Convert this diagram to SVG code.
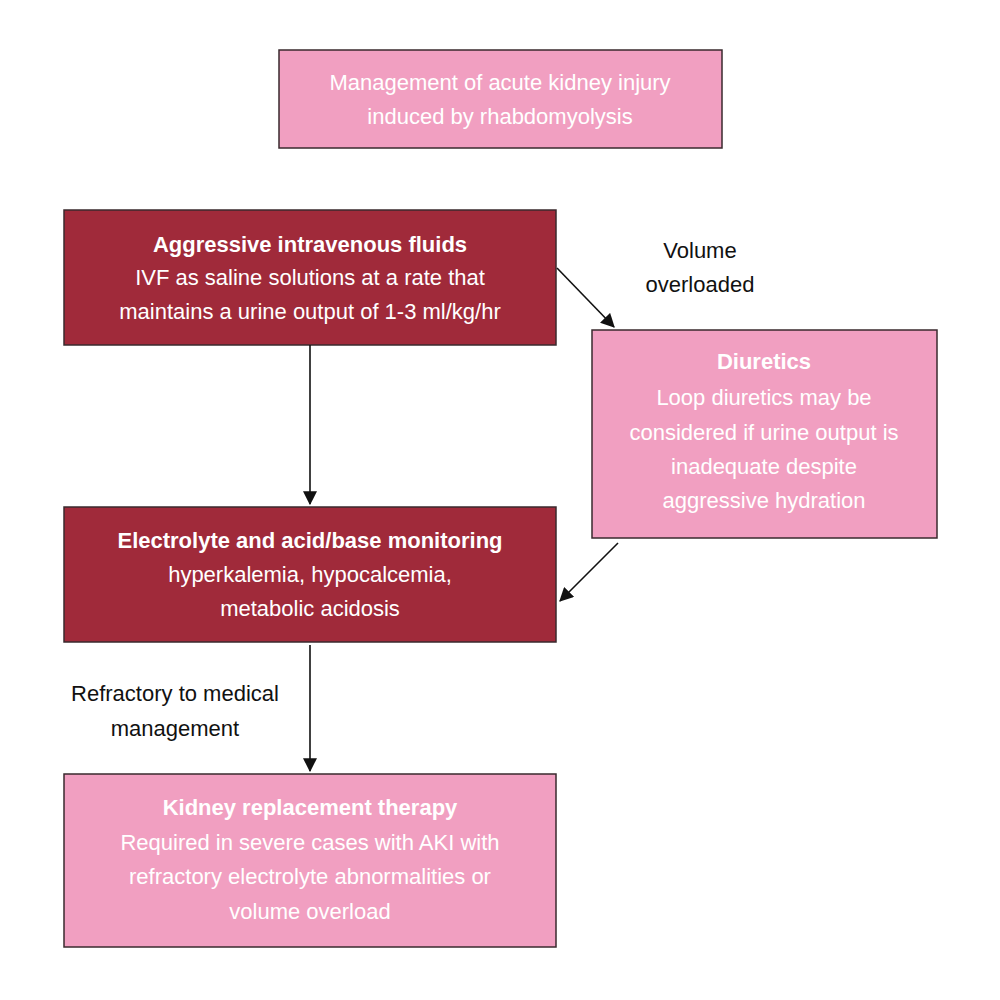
<svg xmlns="http://www.w3.org/2000/svg" width="1000" height="1000" viewBox="0 0 1000 1000">
<defs>
<style>
.pink{fill:#f19fc1;stroke:#3a2a2e;stroke-width:1.5}
.red{fill:#a02a3a;stroke:#3a2a2e;stroke-width:1.5}
text{font-family:"Liberation Sans",Arial,sans-serif;font-size:22px;text-anchor:middle}
.w{fill:#fff}
.b{font-weight:bold}
.k{fill:#111}
.c{stroke:#111;stroke-width:1.6;fill:none;marker-end:url(#ah)}
</style>
<marker id="ah" viewBox="0 0 10 10" refX="9" refY="5" markerWidth="9" markerHeight="9" orient="auto" markerUnits="userSpaceOnUse"><path d="M0,0 L10,5 L0,10 z" fill="#111"/></marker>
<marker id="ah2" viewBox="0 0 12 12" refX="11" refY="6" markerWidth="14" markerHeight="14" orient="auto" markerUnits="userSpaceOnUse"><path d="M0,0 L12,6 L0,12 z" fill="#111"/></marker>
</defs>
<style>.c{marker-end:url(#ah2)}</style>
<g id="title"><rect class="pink" x="279" y="50" width="443" height="98"/>
<text class="w" x="500" y="90">Management of acute kidney injury</text>
<text class="w" x="500" y="124">induced by rhabdomyolysis</text></g>
<g id="fluids"><rect class="red" x="64" y="210" width="492" height="135"/>
<text class="w b" x="310" y="252">Aggressive intravenous fluids</text>
<text class="w" x="310" y="285">IVF as saline solutions at a rate that</text>
<text class="w" x="310" y="319">maintains a urine output of 1-3 ml/kg/hr</text></g>
<g id="diuretics"><rect class="pink" x="592" y="330" width="345" height="208"/>
<text class="w b" x="764" y="369">Diuretics</text>
<text class="w" x="764" y="405">Loop diuretics may be</text>
<text class="w" x="764" y="440">considered if urine output is</text>
<text class="w" x="764" y="474">inadequate despite</text>
<text class="w" x="764" y="508">aggressive hydration</text></g>
<g id="electrolyte"><rect class="red" x="64" y="507" width="492" height="135"/>
<text class="w b" x="310" y="548">Electrolyte and acid/base monitoring</text>
<text class="w" x="310" y="582">hyperkalemia, hypocalcemia,</text>
<text class="w" x="310" y="616">metabolic acidosis</text></g>
<g id="krt"><rect class="pink" x="64" y="774" width="492" height="173"/>
<text class="w b" x="310" y="815">Kidney replacement therapy</text>
<text class="w" x="310" y="850">Required in severe cases with AKI with</text>
<text class="w" x="310" y="884">refractory electrolyte abnormalities or</text>
<text class="w" x="310" y="919">volume overload</text></g>
<g id="connectors">
<path class="c" d="M310,345 L310,504"/>
<path class="c" d="M557,268 L614,327"/>
<path class="c" d="M618,543 L560,601"/>
<path class="c" d="M310,645 L310,771"/>
<text class="k" x="700" y="258">Volume</text>
<text class="k" x="700" y="292">overloaded</text>
<text class="k" x="175" y="701">Refractory to medical</text>
<text class="k" x="175" y="736">management</text>
</g>
</svg>
